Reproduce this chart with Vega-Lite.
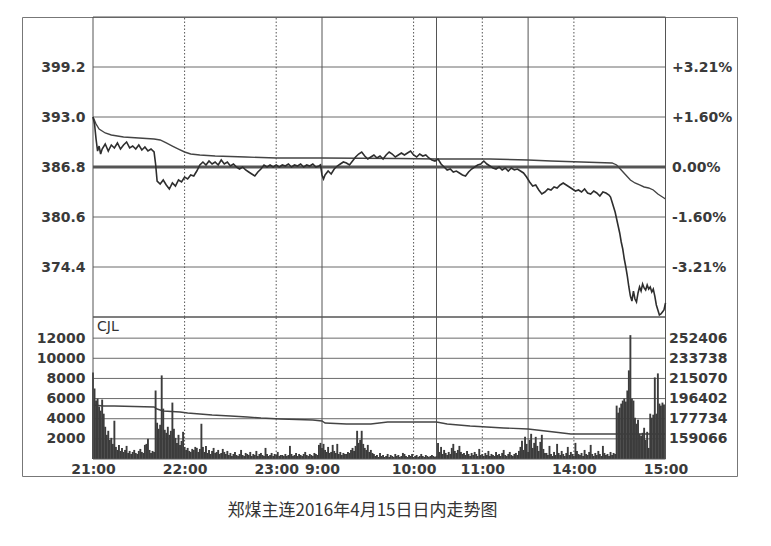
{
"$schema": "https://vega.github.io/schema/vega-lite/v6.json",
"width": 715, "height": 459,
"padding": {"left": 22, "top": 16, "right": 10, "bottom": 5},
"background": "white",
"config": {
 "view": {"stroke": "#777", "strokeWidth": 1},
 "axis": {"domain": false, "ticks": false, "grid": false, "title": null, "labelFont": "DejaVu Sans", "labelFontWeight": "bold", "labelFontSize": 14, "labelColor": "#3a3a3a"}
},
"title": {"text": "郑煤主连2016年4月15日日内走势图", "orient": "bottom", "anchor": "middle", "dx": -17, "offset": 27, "font": "Noto Sans CJK SC", "fontSize": 17, "fontWeight": "normal", "color": "#333"},
"datasets": {
 "vl": [{"t":60,"k":"d"},{"t":120,"k":"d"},{"t":210,"k":"d"},{"t":255,"k":"d"},{"t":315,"k":"d"},{"t":150,"k":"s"},{"t":225,"k":"s"},{"t":285,"k":"s"}],
 "pg": [{"p":374.4},{"p":380.6},{"p":393.0},{"p":399.2}],
 "vg": [{"v":2000},{"v":4000},{"v":6000},{"v":8000},{"v":10000},{"v":12000}],
 "price": [{"t":0,"p":393.0},{"t":1,"p":392.13},{"t":2,"p":390.27},{"t":3,"p":388.78},{"t":4,"p":389.4},{"t":5,"p":388.41},{"t":6,"p":389.03},{"t":8,"p":389.65},{"t":10,"p":388.78},{"t":12,"p":389.53},{"t":14,"p":389.16},{"t":16,"p":389.78},{"t":18,"p":389.03},{"t":20,"p":389.53},{"t":22,"p":389.9},{"t":24,"p":389.16},{"t":26,"p":389.4},{"t":28,"p":389.03},{"t":30,"p":389.53},{"t":32,"p":388.91},{"t":34,"p":389.28},{"t":36,"p":388.78},{"t":38,"p":389.03},{"t":40,"p":388.66},{"t":41,"p":387.17},{"t":42,"p":385.06},{"t":44,"p":384.69},{"t":46,"p":385.19},{"t":48,"p":384.57},{"t":50,"p":384.07},{"t":52,"p":384.82},{"t":54,"p":384.44},{"t":56,"p":385.19},{"t":58,"p":384.94},{"t":60,"p":385.56},{"t":62,"p":385.31},{"t":64,"p":385.81},{"t":66,"p":385.68},{"t":68,"p":386.3},{"t":70,"p":387.05},{"t":72,"p":387.42},{"t":74,"p":387.05},{"t":76,"p":387.54},{"t":78,"p":387.17},{"t":80,"p":387.42},{"t":82,"p":387.05},{"t":84,"p":387.67},{"t":86,"p":387.17},{"t":88,"p":387.42},{"t":90,"p":386.92},{"t":92,"p":387.17},{"t":94,"p":386.8},{"t":96,"p":386.55},{"t":98,"p":386.8},{"t":100,"p":386.43},{"t":102,"p":386.18},{"t":104,"p":385.93},{"t":106,"p":385.68},{"t":108,"p":386.18},{"t":110,"p":386.55},{"t":112,"p":387.05},{"t":114,"p":386.8},{"t":116,"p":387.05},{"t":118,"p":386.8},{"t":120,"p":387.05},{"t":122,"p":386.8},{"t":124,"p":387.05},{"t":126,"p":386.92},{"t":128,"p":387.17},{"t":130,"p":386.8},{"t":132,"p":387.05},{"t":134,"p":386.92},{"t":136,"p":387.17},{"t":138,"p":386.8},{"t":140,"p":387.05},{"t":142,"p":386.92},{"t":144,"p":387.17},{"t":146,"p":386.8},{"t":148,"p":386.92},{"t":149,"p":387.05},{"t":150,"p":385.81},{"t":151,"p":385.31},{"t":152,"p":385.81},{"t":154,"p":386.3},{"t":156,"p":385.93},{"t":158,"p":386.55},{"t":160,"p":386.92},{"t":162,"p":387.17},{"t":164,"p":387.42},{"t":166,"p":387.3},{"t":168,"p":387.05},{"t":170,"p":387.54},{"t":172,"p":388.04},{"t":174,"p":388.41},{"t":176,"p":388.66},{"t":178,"p":388.16},{"t":180,"p":387.79},{"t":182,"p":388.04},{"t":184,"p":388.29},{"t":186,"p":387.92},{"t":188,"p":388.16},{"t":190,"p":387.79},{"t":192,"p":388.29},{"t":194,"p":388.66},{"t":196,"p":388.41},{"t":198,"p":388.04},{"t":200,"p":388.29},{"t":202,"p":388.54},{"t":204,"p":388.29},{"t":206,"p":388.54},{"t":208,"p":388.78},{"t":210,"p":388.29},{"t":212,"p":388.04},{"t":214,"p":388.41},{"t":216,"p":388.16},{"t":218,"p":388.29},{"t":220,"p":387.92},{"t":222,"p":387.67},{"t":224,"p":387.54},{"t":226,"p":387.79},{"t":228,"p":387.17},{"t":230,"p":386.8},{"t":232,"p":386.43},{"t":234,"p":386.55},{"t":236,"p":386.18},{"t":238,"p":386.3},{"t":240,"p":386.06},{"t":242,"p":385.81},{"t":244,"p":385.68},{"t":246,"p":386.18},{"t":248,"p":386.55},{"t":250,"p":386.8},{"t":252,"p":387.05},{"t":254,"p":387.17},{"t":256,"p":387.54},{"t":258,"p":387.17},{"t":260,"p":386.92},{"t":262,"p":386.68},{"t":264,"p":386.55},{"t":266,"p":386.8},{"t":268,"p":386.43},{"t":270,"p":386.68},{"t":272,"p":386.3},{"t":274,"p":386.68},{"t":276,"p":386.43},{"t":278,"p":386.55},{"t":280,"p":386.3},{"t":282,"p":386.06},{"t":284,"p":385.56},{"t":286,"p":384.94},{"t":288,"p":384.44},{"t":290,"p":384.57},{"t":292,"p":383.95},{"t":294,"p":383.45},{"t":296,"p":383.7},{"t":298,"p":384.07},{"t":300,"p":383.95},{"t":302,"p":384.32},{"t":304,"p":384.2},{"t":306,"p":384.57},{"t":308,"p":384.82},{"t":310,"p":384.57},{"t":312,"p":384.32},{"t":314,"p":384.07},{"t":316,"p":383.82},{"t":318,"p":383.95},{"t":320,"p":383.7},{"t":322,"p":384.07},{"t":324,"p":383.58},{"t":326,"p":383.45},{"t":328,"p":383.82},{"t":330,"p":383.58},{"t":332,"p":383.2},{"t":334,"p":383.7},{"t":336,"p":383.58},{"t":338,"p":383.33},{"t":339,"p":383.08},{"t":340,"p":382.46},{"t":341,"p":381.84},{"t":342,"p":381.22},{"t":343,"p":380.35},{"t":344,"p":379.48},{"t":345,"p":378.62},{"t":346,"p":377.5},{"t":347,"p":376.63},{"t":348,"p":375.39},{"t":349,"p":374.4},{"t":350,"p":373.28},{"t":351,"p":371.92},{"t":352,"p":370.8},{"t":353,"p":370.18},{"t":354,"p":371.42},{"t":355,"p":370.43},{"t":356,"p":370.06},{"t":357,"p":371.18},{"t":358,"p":371.92},{"t":359,"p":371.42},{"t":360,"p":372.29},{"t":361,"p":371.8},{"t":362,"p":371.55},{"t":363,"p":372.17},{"t":364,"p":371.67},{"t":365,"p":371.92},{"t":366,"p":371.3},{"t":367,"p":371.67},{"t":368,"p":370.8},{"t":369,"p":369.69},{"t":370,"p":369.07},{"t":371,"p":368.45},{"t":372,"p":368.57},{"t":373,"p":368.82},{"t":374,"p":369.07},{"t":375,"p":369.94}],
 "avg": [{"t":0,"a":393.0},{"t":2,"a":392.13},{"t":4,"a":391.51},{"t":8,"a":391.02},{"t":12,"a":390.77},{"t":16,"a":390.64},{"t":20,"a":390.52},{"t":30,"a":390.4},{"t":40,"a":390.27},{"t":44,"a":390.15},{"t":48,"a":389.78},{"t":52,"a":389.4},{"t":56,"a":389.03},{"t":60,"a":388.66},{"t":64,"a":388.41},{"t":70,"a":388.29},{"t":80,"a":388.16},{"t":100,"a":388.04},{"t":120,"a":387.92},{"t":150,"a":387.92},{"t":200,"a":387.85},{"t":225,"a":387.79},{"t":260,"a":387.79},{"t":285,"a":387.67},{"t":300,"a":387.54},{"t":320,"a":387.42},{"t":340,"a":387.3},{"t":343,"a":387.05},{"t":346,"a":386.43},{"t":349,"a":385.81},{"t":352,"a":385.19},{"t":355,"a":384.82},{"t":358,"a":384.57},{"t":361,"a":384.32},{"t":364,"a":384.2},{"t":367,"a":383.95},{"t":370,"a":383.45},{"t":373,"a":383.08},{"t":375,"a":382.83}],
 "oi": [{"t":0,"o":190456},{"t":7,"o":189529},{"t":14,"o":189529},{"t":40,"o":188602},{"t":42,"o":186748},{"t":46,"o":184894},{"t":57,"o":183967},{"t":62,"o":183040},{"t":70,"o":182113},{"t":78,"o":181186},{"t":90,"o":180259},{"t":101,"o":179332},{"t":110,"o":178405},{"t":123,"o":177478},{"t":144,"o":176551},{"t":150,"o":175624},{"t":152,"o":173770},{"t":166,"o":172843},{"t":182,"o":172843},{"t":193,"o":174697},{"t":225,"o":174697},{"t":232,"o":172843},{"t":247,"o":170989},{"t":269,"o":169135},{"t":285,"o":168208},{"t":302,"o":165427},{"t":313,"o":163573},{"t":342,"o":163573},{"t":375,"o":163573}],
 "vol": [{"t":0,"v":8600},{"t":1,"v":7000},{"t":2,"v":5800},{"t":3,"v":6000},{"t":4,"v":5200},{"t":5,"v":4800},{"t":6,"v":5900},{"t":7,"v":4500},{"t":8,"v":3200},{"t":9,"v":2400},{"t":10,"v":2800},{"t":11,"v":1900},{"t":12,"v":2100},{"t":13,"v":1500},{"t":14,"v":3800},{"t":15,"v":1200},{"t":16,"v":900},{"t":17,"v":1400},{"t":18,"v":800},{"t":19,"v":1100},{"t":20,"v":700},{"t":21,"v":900},{"t":22,"v":1300},{"t":23,"v":600},{"t":24,"v":800},{"t":25,"v":500},{"t":26,"v":700},{"t":27,"v":900},{"t":28,"v":600},{"t":29,"v":500},{"t":30,"v":800},{"t":31,"v":1000},{"t":32,"v":700},{"t":33,"v":600},{"t":34,"v":1400},{"t":35,"v":1500},{"t":36,"v":2000},{"t":37,"v":900},{"t":38,"v":600},{"t":39,"v":800},{"t":40,"v":700},{"t":41,"v":6800},{"t":42,"v":3600},{"t":43,"v":3000},{"t":44,"v":3400},{"t":45,"v":8300},{"t":46,"v":5000},{"t":47,"v":2900},{"t":48,"v":2600},{"t":49,"v":3200},{"t":50,"v":2400},{"t":51,"v":2800},{"t":52,"v":5600},{"t":53,"v":3000},{"t":54,"v":2100},{"t":55,"v":1600},{"t":56,"v":2400},{"t":57,"v":1400},{"t":58,"v":1800},{"t":59,"v":2700},{"t":60,"v":1200},{"t":61,"v":900},{"t":62,"v":1100},{"t":63,"v":800},{"t":64,"v":700},{"t":65,"v":1000},{"t":66,"v":900},{"t":67,"v":1200},{"t":68,"v":1100},{"t":69,"v":700},{"t":70,"v":1000},{"t":71,"v":3500},{"t":72,"v":1200},{"t":73,"v":700},{"t":74,"v":1300},{"t":75,"v":600},{"t":76,"v":900},{"t":77,"v":500},{"t":78,"v":800},{"t":79,"v":1100},{"t":80,"v":600},{"t":81,"v":700},{"t":82,"v":900},{"t":83,"v":500},{"t":84,"v":600},{"t":85,"v":1000},{"t":86,"v":700},{"t":87,"v":500},{"t":88,"v":800},{"t":89,"v":400},{"t":90,"v":600},{"t":91,"v":300},{"t":92,"v":500},{"t":93,"v":700},{"t":94,"v":400},{"t":95,"v":300},{"t":96,"v":500},{"t":97,"v":900},{"t":98,"v":400},{"t":99,"v":300},{"t":100,"v":600},{"t":101,"v":500},{"t":102,"v":400},{"t":103,"v":700},{"t":104,"v":300},{"t":105,"v":500},{"t":106,"v":400},{"t":107,"v":800},{"t":108,"v":300},{"t":109,"v":500},{"t":110,"v":600},{"t":111,"v":400},{"t":112,"v":300},{"t":113,"v":1100},{"t":114,"v":500},{"t":115,"v":300},{"t":116,"v":400},{"t":117,"v":600},{"t":118,"v":300},{"t":119,"v":500},{"t":120,"v":400},{"t":121,"v":700},{"t":122,"v":300},{"t":123,"v":400},{"t":124,"v":400},{"t":125,"v":300},{"t":126,"v":500},{"t":127,"v":300},{"t":128,"v":400},{"t":129,"v":1300},{"t":130,"v":500},{"t":131,"v":300},{"t":132,"v":400},{"t":133,"v":600},{"t":134,"v":300},{"t":135,"v":500},{"t":136,"v":400},{"t":137,"v":300},{"t":138,"v":500},{"t":139,"v":700},{"t":140,"v":400},{"t":141,"v":300},{"t":142,"v":500},{"t":143,"v":400},{"t":144,"v":300},{"t":145,"v":600},{"t":146,"v":500},{"t":147,"v":400},{"t":148,"v":1400},{"t":149,"v":1600},{"t":150,"v":1100},{"t":151,"v":1500},{"t":152,"v":900},{"t":153,"v":700},{"t":154,"v":1200},{"t":155,"v":600},{"t":156,"v":700},{"t":157,"v":1400},{"t":158,"v":800},{"t":159,"v":600},{"t":160,"v":1500},{"t":161,"v":500},{"t":162,"v":700},{"t":163,"v":400},{"t":164,"v":600},{"t":165,"v":500},{"t":166,"v":500},{"t":167,"v":700},{"t":168,"v":600},{"t":169,"v":900},{"t":170,"v":1100},{"t":171,"v":800},{"t":172,"v":1300},{"t":173,"v":2800},{"t":174,"v":1600},{"t":175,"v":1900},{"t":176,"v":2800},{"t":177,"v":1500},{"t":178,"v":1100},{"t":179,"v":900},{"t":180,"v":1400},{"t":181,"v":700},{"t":182,"v":900},{"t":183,"v":600},{"t":184,"v":500},{"t":185,"v":300},{"t":186,"v":400},{"t":187,"v":200},{"t":188,"v":600},{"t":189,"v":300},{"t":190,"v":400},{"t":191,"v":200},{"t":192,"v":300},{"t":193,"v":500},{"t":194,"v":200},{"t":195,"v":400},{"t":196,"v":300},{"t":197,"v":200},{"t":198,"v":500},{"t":199,"v":300},{"t":200,"v":400},{"t":201,"v":200},{"t":202,"v":300},{"t":203,"v":600},{"t":204,"v":500},{"t":205,"v":300},{"t":206,"v":200},{"t":207,"v":400},{"t":208,"v":300},{"t":209,"v":500},{"t":210,"v":200},{"t":211,"v":300},{"t":212,"v":400},{"t":213,"v":200},{"t":214,"v":300},{"t":215,"v":500},{"t":216,"v":300},{"t":217,"v":200},{"t":218,"v":400},{"t":219,"v":300},{"t":220,"v":200},{"t":221,"v":300},{"t":222,"v":400},{"t":223,"v":300},{"t":224,"v":200},{"t":225,"v":300},{"t":226,"v":1600},{"t":227,"v":700},{"t":228,"v":1200},{"t":229,"v":500},{"t":230,"v":900},{"t":231,"v":600},{"t":232,"v":400},{"t":233,"v":700},{"t":234,"v":500},{"t":235,"v":1100},{"t":236,"v":1500},{"t":237,"v":800},{"t":238,"v":600},{"t":239,"v":900},{"t":240,"v":1300},{"t":241,"v":700},{"t":242,"v":500},{"t":243,"v":600},{"t":244,"v":400},{"t":245,"v":800},{"t":246,"v":500},{"t":247,"v":300},{"t":248,"v":600},{"t":249,"v":400},{"t":250,"v":700},{"t":251,"v":500},{"t":252,"v":300},{"t":253,"v":1000},{"t":254,"v":400},{"t":255,"v":500},{"t":256,"v":300},{"t":257,"v":600},{"t":258,"v":400},{"t":259,"v":800},{"t":260,"v":300},{"t":261,"v":500},{"t":262,"v":400},{"t":263,"v":300},{"t":264,"v":700},{"t":265,"v":400},{"t":266,"v":500},{"t":267,"v":300},{"t":268,"v":600},{"t":269,"v":900},{"t":270,"v":400},{"t":271,"v":300},{"t":272,"v":500},{"t":273,"v":700},{"t":274,"v":400},{"t":275,"v":300},{"t":276,"v":500},{"t":277,"v":600},{"t":278,"v":400},{"t":279,"v":800},{"t":280,"v":1200},{"t":281,"v":1800},{"t":282,"v":900},{"t":283,"v":2200},{"t":284,"v":1500},{"t":285,"v":700},{"t":286,"v":1900},{"t":287,"v":2500},{"t":288,"v":1100},{"t":289,"v":1600},{"t":290,"v":2200},{"t":291,"v":1300},{"t":292,"v":800},{"t":293,"v":1700},{"t":294,"v":2400},{"t":295,"v":1000},{"t":296,"v":600},{"t":297,"v":600},{"t":298,"v":400},{"t":299,"v":1300},{"t":300,"v":500},{"t":301,"v":300},{"t":302,"v":700},{"t":303,"v":400},{"t":304,"v":1500},{"t":305,"v":600},{"t":306,"v":400},{"t":307,"v":800},{"t":308,"v":500},{"t":309,"v":300},{"t":310,"v":600},{"t":311,"v":1200},{"t":312,"v":400},{"t":313,"v":700},{"t":314,"v":500},{"t":315,"v":300},{"t":316,"v":1600},{"t":317,"v":800},{"t":318,"v":500},{"t":319,"v":400},{"t":320,"v":600},{"t":321,"v":300},{"t":322,"v":900},{"t":323,"v":500},{"t":324,"v":400},{"t":325,"v":700},{"t":326,"v":1400},{"t":327,"v":500},{"t":328,"v":300},{"t":329,"v":600},{"t":330,"v":400},{"t":331,"v":800},{"t":332,"v":500},{"t":333,"v":300},{"t":334,"v":1300},{"t":335,"v":600},{"t":336,"v":400},{"t":337,"v":500},{"t":338,"v":300},{"t":339,"v":700},{"t":340,"v":400},{"t":341,"v":600},{"t":342,"v":500},{"t":343,"v":5300},{"t":344,"v":4600},{"t":345,"v":5100},{"t":346,"v":5500},{"t":347,"v":5800},{"t":348,"v":6000},{"t":349,"v":5700},{"t":350,"v":6800},{"t":351,"v":8800},{"t":352,"v":12300},{"t":353,"v":6000},{"t":354,"v":5800},{"t":355,"v":4100},{"t":356,"v":3500},{"t":357,"v":3900},{"t":358,"v":2500},{"t":359,"v":2300},{"t":360,"v":2600},{"t":361,"v":3100},{"t":362,"v":1900},{"t":363,"v":2700},{"t":364,"v":1100},{"t":365,"v":4500},{"t":366,"v":4100},{"t":367,"v":4400},{"t":368,"v":8100},{"t":369,"v":4500},{"t":370,"v":8500},{"t":371,"v":5500},{"t":372,"v":5300},{"t":373,"v":5600},{"t":374,"v":5400}]
},
"layer": [
 {
  "layer": [
   {"data": {"name": "pg"}, "mark": {"type": "rule", "color": "#6a6a6a", "strokeWidth": 1},
    "encoding": {"y": {"field": "p", "type": "quantitative"}, "x": {"datum": 0}, "x2": {"datum": 375}}},
   {"data": {"name": "vl"}, "mark": {"type": "rule", "color": "#555", "strokeWidth": 1},
    "encoding": {"x": {"field": "t", "type": "quantitative"}, "y": {"datum": 368.2}, "y2": {"datum": 405.4},
     "strokeDash": {"field": "k", "type": "nominal", "scale": {"domain": ["d", "s"], "range": [[1.5, 2], [1, 0]]}, "legend": null}}},
   {"data": {"values": [{"p": 386.8}]}, "mark": {"type": "rule", "color": "#555", "strokeWidth": 3},
    "encoding": {"y": {"field": "p", "type": "quantitative"}, "x": {"datum": 0}, "x2": {"datum": 375}}},
   {"data": {"name": "avg"}, "mark": {"type": "line", "color": "#444", "strokeWidth": 1.4},
    "encoding": {"x": {"field": "t", "type": "quantitative"}, "y": {"field": "a", "type": "quantitative"}}},
   {"data": {"values": [{}]}, "mark": {"type": "rect", "fillOpacity": 0, "stroke": "#555", "strokeWidth": 1},
    "encoding": {"x": {"datum": 0}, "x2": {"datum": 375}, "y": {"datum": 368.2}, "y2": {"datum": 405.4}}}
  ],
  "encoding": {
   "x": {"type": "quantitative", "scale": {"domain": [0, 375], "range": [71, 643.5], "nice": false, "zero": false},
    "axis": {"orient": "bottom", "offset": -17, "values": [0, 60, 120, 150, 210, 255, 315, 375], "labelOverlap": false, "labelFlush": false, "labelPadding": 3,
     "labelExpr": "datum.value==0?'21:00':datum.value==60?'22:00':datum.value==120?'23:00':datum.value==150?'9:00':datum.value==210?'10:00':datum.value==255?'11:00':datum.value==315?'14:00':'15:00'"}},
   "y": {"type": "quantitative", "scale": {"domain": [368.2, 405.4], "range": [300, 0], "zero": false, "nice": false},
    "axis": {"orient": "right", "offset": -71.5, "labelPadding": 6, "values": [374.4, 380.6, 386.8, 393.0, 399.2],
     "labelExpr": "datum.value > 386.85 ? '+' + format(datum.value/386.8*100-100, '.2f') + '%' : (datum.value < 386.75 ? '-' + format(100-datum.value/386.8*100, '.2f') + '%' : '0.00%')"}}
  }
 },
 {
  "data": {"name": "price"},
  "mark": {"type": "line", "color": "#2e2e2e", "strokeWidth": 1.6},
  "encoding": {
   "x": {"field": "t", "type": "quantitative"},
   "y": {"field": "p", "type": "quantitative", "scale": {"domain": [368.2, 405.4], "range": [300, 0], "zero": false, "nice": false},
    "axis": {"orient": "left", "offset": -71, "labelPadding": 8, "values": [374.4, 380.6, 386.8, 393.0, 399.2], "format": ".1f"}}
  }
 },
 {
  "layer": [
   {"data": {"name": "vg"}, "mark": {"type": "rule", "color": "#6a6a6a", "strokeWidth": 1},
    "encoding": {"y": {"field": "v", "type": "quantitative"}, "x": {"datum": 0}, "x2": {"datum": 375}}},
   {"data": {"name": "vl"}, "mark": {"type": "rule", "color": "#555", "strokeWidth": 1},
    "encoding": {"x": {"field": "t", "type": "quantitative"}, "y": {"datum": 0}, "y2": {"datum": 14100},
     "strokeDash": {"field": "k", "type": "nominal", "scale": {"domain": ["d", "s"], "range": [[1.5, 2], [1, 0]]}, "legend": null}}}
  ],
  "encoding": {
   "y": {"type": "quantitative", "scale": {"domain": [0, 14100], "range": [442, 300], "nice": false},
    "axis": {"orient": "left", "offset": -71, "labelPadding": 8, "values": [2000, 4000, 6000, 8000, 10000, 12000], "format": "d"}}
  }
 },
 {
  "data": {"name": "oi"},
  "mark": {"type": "line", "color": "#444", "strokeWidth": 1.4},
  "encoding": {
   "x": {"field": "t", "type": "quantitative"},
   "y": {"field": "o", "type": "quantitative", "scale": {"domain": [140398, 272007], "range": [442, 300], "zero": false, "nice": false},
    "axis": {"orient": "right", "offset": -71.5, "labelPadding": 3, "values": [159066, 177734, 196402, 215070, 233738, 252406], "format": "d"}}
  }
 },
 {
  "layer": [
   {"data": {"name": "vol"}, "mark": {"type": "rule", "color": "#3c3c3c", "strokeWidth": 1.9},
    "encoding": {"x": {"field": "t", "type": "quantitative"}, "y": {"field": "v", "type": "quantitative"}, "y2": {"datum": 0}}},
   {"data": {"values": [{"label": "CJL"}]}, "mark": {"type": "text", "align": "left", "baseline": "top", "dx": 4, "dy": 3, "font": "DejaVu Sans", "fontSize": 14, "color": "#333"},
    "encoding": {"x": {"datum": 0}, "y": {"datum": 14100}, "text": {"field": "label"}}},
   {"data": {"values": [{}]}, "mark": {"type": "rect", "fillOpacity": 0, "stroke": "#555", "strokeWidth": 1},
    "encoding": {"x": {"datum": 0}, "x2": {"datum": 375}, "y": {"datum": 0}, "y2": {"datum": 14100}}}
  ],
  "encoding": {
   "y": {"type": "quantitative", "scale": {"domain": [0, 14100], "range": [442, 300], "nice": false}, "axis": null}
  }
 }
],
"resolve": {"scale": {"y": "independent"}}
}
